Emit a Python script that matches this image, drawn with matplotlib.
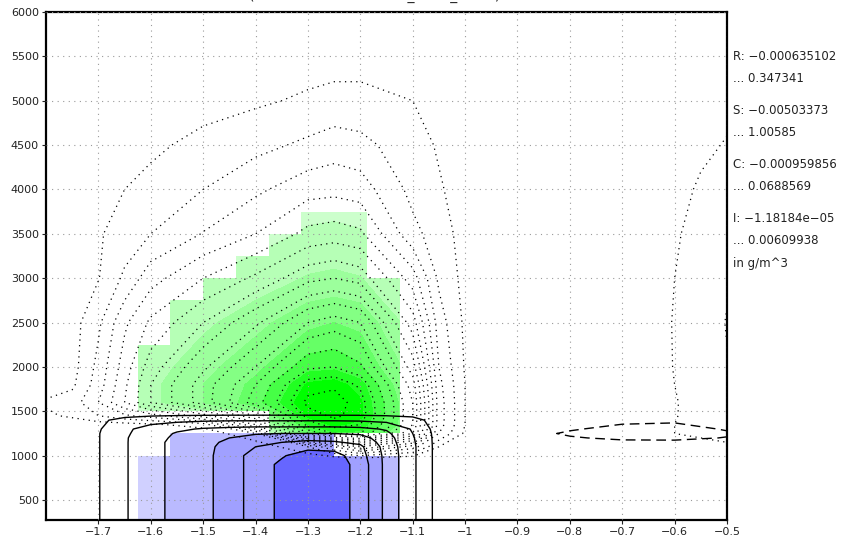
import numpy as np
import matplotlib
matplotlib.use("Agg")
import matplotlib.pyplot as plt
from matplotlib.path import Path

# ---- snow field (green shading + dotted contours)
xg = [-1.8, -1.75, -1.7, -1.65, -1.6, -1.5, -1.4, -1.3, -1.25, -1.2,
      -1.1, -1.05, -1.0, -0.9, -0.7, -0.6, -0.55, -0.5]
yg = [250, 950, 1100, 1250, 1350, 1450, 1600, 1800, 2000, 2500, 3000,
      3500, 4000, 4500, 5000, 5500, 6000]
snow = [
    [0, 0, 0, 0, 0, 0, 0, 0, 0, 0, 0, 0, 0, 0, 0, 0, 0, 0],
    [0, 0, 0, 0, 0, 0, 0, 0, 0, 0, 0, 0, 0, 0, 0.2, 0.4, 0.5, 0.6],
    [0, 0, 0, 0, 0, 0, 0.2, 2.0, 4.0, 6.0, 3.5, 1.0, 0.2, 0, 0.4, 0.7, 0.8, 0.9],
    [0, 0, 0, 0, 0, 0.2, 2.0, 12.0, 14.0, 14.0, 9.0, 3.0, 0.8, 0.2, 0.6, 1.0, 1.1, 1.2],
    [0.2, 0.3, 0.5, 0.6, 0.8, 1.5, 6.0, 14.5, 15.5, 15.0, 10.0, 3.5, 1.0, 0.3, 0.6, 1.0, 1.1, 1.25],
    [0.8, 1.2, 2.0, 2.8, 3.5, 5.5, 9.0, 15.5, 16.2, 15.6, 10.0, 3.5, 1.0, 0.3, 0.55, 0.97, 1.2, 1.4],
    [1.15, 1.5, 3.0, 5.0, 7.0, 9.5, 12.5, 16.3, 16.5, 15.5, 10.0, 3.5, 1.0, 0.3, 0.5, 0.95, 1.3, 1.6],
    [0.4, 0.8, 2.5, 4.8, 7.0, 9.5, 12.0, 15.5, 15.8, 14.8, 9.5, 3.3, 1.0, 0.3, 0.5, 1.0, 1.4, 1.8],
    [0.3, 0.6, 2.3, 4.5, 6.5, 8.8, 11.0, 13.8, 14.0, 13.2, 8.5, 3.0, 0.9, 0.3, 0.5, 1.02, 1.45, 1.95],
    [0.4, 0.6, 1.8, 3.8, 5.2, 7.0, 8.8, 11.0, 11.5, 11.0, 6.5, 2.5, 0.8, 0.3, 0.5, 1.03, 1.45, 2.05],
    [0.4, 0.7, 0.95, 2.2, 3.6, 5.0, 6.2, 7.7, 8.0, 7.6, 4.5, 1.8, 0.7, 0.3, 0.5, 1.0, 1.4, 1.9],
    [0.4, 0.7, 0.9, 1.4, 2.0, 3.05, 4.0, 5.3, 5.5, 5.2, 2.3, 1.5, 0.6, 0.3, 0.45, 0.9, 1.3, 1.6],
    [0.3, 0.5, 0.7, 1.0, 1.3, 2.0, 2.8, 3.6, 3.7, 3.5, 1.7, 1.1, 0.6, 0.3, 0.4, 0.75, 1.1, 1.3],
    [0.2, 0.3, 0.4, 0.6, 0.8, 1.3, 1.7, 2.2, 2.5, 2.3, 1.4, 0.9, 0.5, 0.2, 0.4, 0.6, 0.85, 1.05],
    [0.1, 0.15, 0.2, 0.3, 0.4, 0.6, 0.85, 1.15, 1.3, 1.3, 1.0, 0.6, 0.35, 0.15, 0.3, 0.45, 0.6, 0.8],
    [0.05, 0.1, 0.15, 0.2, 0.25, 0.35, 0.5, 0.55, 0.6, 0.6, 0.5, 0.4, 0.2, 0.1, 0.2, 0.3, 0.4, 0.5],
    [0, 0.05, 0.05, 0.1, 0.1, 0.15, 0.2, 0.25, 0.3, 0.3, 0.25, 0.2, 0.1, 0.05, 0.1, 0.15, 0.2, 0.25],
]

# ---- rain field (blue shading + solid contours, dashed negative)
xb = [-1.8, -1.75, -1.7, -1.65, -1.6, -1.55, -1.5, -1.45, -1.4, -1.35, -1.3,
      -1.25, -1.2, -1.15, -1.1, -1.05, -1.0, -0.9, -0.8, -0.7, -0.6, -0.5]
yb = [250, 900, 1000, 1100, 1150, 1200, 1250, 1300, 1400, 1500, 1600, 6000]
rain = [
    [0, 0.3, 0.95, 1.9, 2.65, 3.3, 3.75, 4.4, 5.5, 6.2, 7.0, 6.6, 5.6, 3.7, 2.2, 0.6, 0.1, 0, 0, 0, 0, 0],
    [0, 0.3, 0.95, 1.9, 2.65, 3.3, 3.75, 4.4, 5.5, 6.2, 7.0, 6.6, 5.6, 3.7, 2.2, 0.6, 0.1, 0, 0, 0, 0, 0],
    [0, 0.3, 0.95, 1.9, 2.65, 3.3, 3.75, 4.4, 5.5, 5.9, 6.5, 6.4, 5.4, 3.7, 2.2, 0.6, 0.1, 0, 0, 0, 0, 0],
    [0, 0.3, 0.95, 1.9, 2.65, 3.3, 3.75, 4.3, 5.0, 5.6, 5.7, 5.6, 5.2, 3.6, 2.2, 0.6, 0.1, 0, 0, 0, 0, 0],
    [0, 0.3, 0.95, 1.9, 2.65, 3.3, 3.7, 4.2, 4.7, 5.0, 5.2, 5.1, 4.8, 3.5, 2.15, 0.6, 0.1, 0, -0.3, -0.5, -0.5, -0.3],
    [0, 0.3, 0.95, 1.9, 2.6, 3.2, 3.6, 4.0, 4.4, 4.6, 4.7, 4.65, 4.4, 3.4, 2.1, 0.6, 0.1, 0, -0.8, -1.4, -1.5, -0.9],
    [0, 0.3, 0.95, 1.85, 2.5, 3.1, 3.4, 3.7, 3.9, 4.0, 4.0, 4.0, 3.85, 3.2, 2.0, 0.6, 0.1, -0.1, -1.3, -2.0, -2.2, -1.3],
    [0, 0.3, 0.9, 1.8, 2.4, 2.8, 3.1, 3.25, 3.35, 3.35, 3.35, 3.35, 3.25, 2.9, 1.9, 0.55, 0.1, 0, -0.8, -1.6, -1.9, -0.8],
    [0, 0.25, 0.8, 1.3, 1.6, 1.75, 1.85, 1.9, 1.9, 1.9, 1.9, 1.9, 1.85, 1.7, 1.4, 0.5, 0.1, 0, 0, -0.5, -0.6, -0.2],
    [0, 0.1, 0.2, 0.3, 0.3, 0.3, 0.3, 0.3, 0.3, 0.3, 0.3, 0.3, 0.3, 0.3, 0.3, 0.2, 0.05, 0, 0, 0, 0, 0],
    [0] * 22,
    [0] * 22,
]

# ---- shaded grid cells (where the fields are defined)
cell_x = [-1.625, -1.5625, -1.5, -1.4375, -1.375, -1.3125, -1.25, -1.1875, -1.125]
green_bot = [1500, 1500, 1500, 1500, 1250, 1250, 1250, 1250]
green_top = [2250, 2750, 3000, 3250, 3500, 3750, 3750, 3000]
blue_bot = [0, 0, 0, 0, 0, 0, 0, 0]
blue_top = [1000, 1250, 1250, 1250, 1250, 1250, 1000, 1000]

snow_lines = list(range(1, 17))
snow_fill = [-1, 5, 7.5, 9.5, 11.5, 13, 14.3, 15.3, 30]
snow_colors = ['#ccffcc', '#b6ffb6', '#9cff9c', '#84ff84', '#66ff66',
               '#46ff46', '#22ff22', '#00ff00']
rain_lines = [-1, 1, 2, 3, 4, 5, 6]
rain_fill = [-10, 3, 4, 6, 20]
rain_colors = ['#d0d0ff', '#babaff', '#a0a0ff', '#6666ff']

xticks = [-1.7, -1.6, -1.5, -1.4, -1.3, -1.2, -1.1, -1.0, -0.9, -0.8, -0.7, -0.6, -0.5]
xlabels = ['\u22121.7', '\u22121.6', '\u22121.5', '\u22121.4', '\u22121.3', '\u22121.2',
           '\u22121.1', '\u22121', '\u22120.9', '\u22120.8', '\u22120.7', '\u22120.6', '\u22120.5']
yticks = [500, 1000, 1500, 2000, 2500, 3000, 3500, 4000, 4500, 5000, 5500, 6000]

side_lines = ['R: \u22120.000635102', '... 0.347341',
              'S: \u22120.00503373', '... 1.00585',
              'C: \u22120.000959856', '... 0.0688569',
              'I: \u22121.18184e\u221205', '... 0.00609938',
              'in g/m^3']
side_y = [57, 79, 111, 133, 165, 187, 219, 241, 263]


def cells_path(edges, bottoms, tops):
    cols = list(zip(edges[:-1], edges[1:], bottoms, tops))
    top = [(x, t) for x0, x1, b, t in cols for x in (x0, x1)]
    bot = [(x, b) for x0, x1, b, t in reversed(cols) for x in (x1, x0)]
    verts = top + bot + [top[0]]
    return Path(verts, closed=True)


W, H = 858, 543
fig = plt.figure(figsize=(W / 100, H / 100), dpi=100)
ax = fig.add_axes([46 / W, 1 - 520 / H, (727 - 46) / W, (520 - 12) / H])

cs = ax.contourf(xg, yg, snow, levels=snow_fill, colors=snow_colors, zorder=1)
cs.set_clip_path(cells_path(cell_x, green_bot, green_top), ax.transData)

cb = ax.contourf(xb, yb, rain, levels=rain_fill, colors=rain_colors, zorder=1)
cb.set_clip_path(cells_path(cell_x, blue_bot, blue_top), ax.transData)

ax.contour(xg, yg, snow, levels=snow_lines, colors='k', linewidths=0.9,
           linestyles=[(0, (1, 3.5))] * len(snow_lines), zorder=3)
ax.contour(xb, yb, rain, levels=rain_lines, colors='k', linewidths=1.0,
           linestyles=[(0, (7, 4))] + ['solid'] * (len(rain_lines) - 1), zorder=3)

ax.set_xlim(-1.8, -0.5)
ax.set_ylim(275, 6000)
ax.set_xticks(xticks)
ax.set_xticklabels(xlabels)
ax.set_yticks(yticks)
ax.grid(True, color='#9a9a9a', linestyle=(0, (1, 4)), linewidth=0.8)
ax.set_axisbelow(False)
ax.tick_params(direction='out', length=3, width=0.8, labelsize=8,
               colors='#222222', pad=2)
for s in ax.spines.values():
    s.set_linewidth(1.6)
    s.set_color('black')

for txt, py in zip(side_lines, side_y):
    fig.text(733 / W, 1 - py / H, txt, fontsize=8.5, va='center', ha='left',
             color='#222222')

# title: only its lowest pixels fall inside the picture, as in the reference
fig.text(375 / W, 1 - 3 / H, '(x\u2013z cross section: rain_snow_cloud)',
         fontsize=10, ha='center', va='bottom', color='#222222')

fig.savefig('out.png', dpi=100)
